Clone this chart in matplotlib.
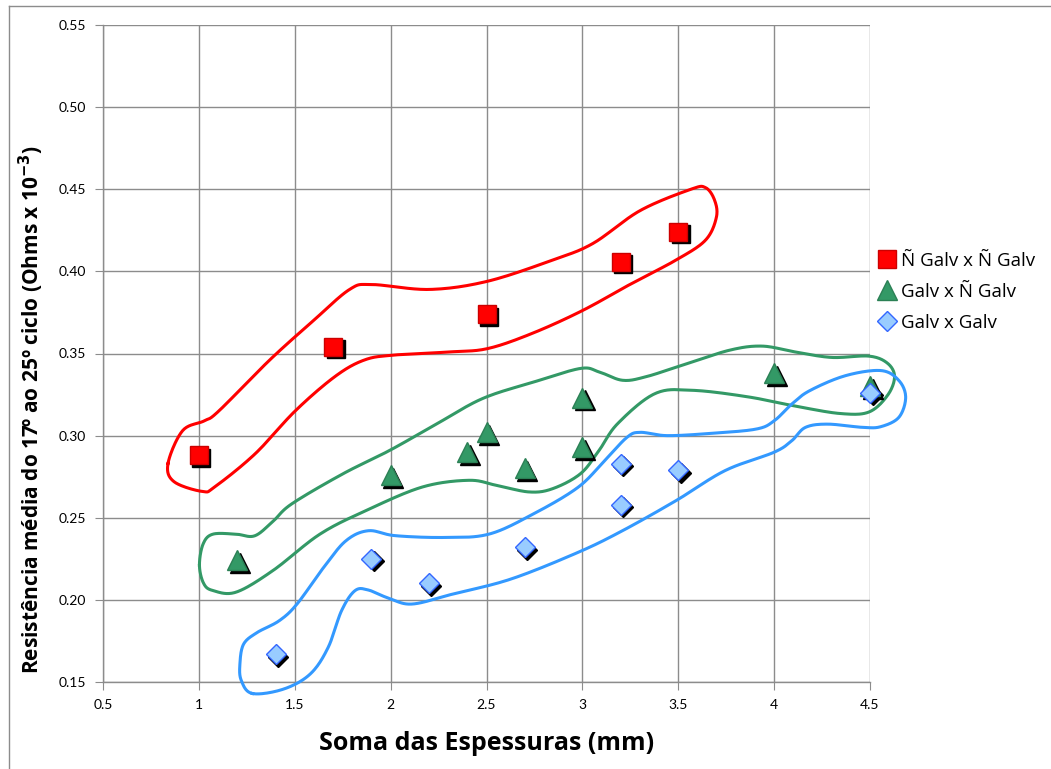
import numpy as np
import matplotlib
matplotlib.use("Agg")
import matplotlib.pyplot as plt
from matplotlib import transforms
from matplotlib.lines import Line2D

plt.rcParams['font.family'] = ['Lato', 'DejaVu Sans']

# --- measured values -------------------------------------------------------
nn_x = [1.0, 1.7, 2.5, 3.2, 3.5]
nn_y = [0.288, 0.354, 0.374, 0.406, 0.424]

gn_x = [1.2, 2.0, 2.4, 2.5, 2.7, 3.0, 3.0, 4.0, 4.5]
gn_y = [0.224, 0.276, 0.290, 0.302, 0.280, 0.323, 0.293, 0.338, 0.330]

gg_x = [1.4, 1.9, 2.2, 2.7, 3.2, 3.2, 3.5, 4.5]
gg_y = [0.167, 0.225, 0.210, 0.232, 0.283, 0.258, 0.279, 0.326]

labels = ["Ñ Galv x Ñ Galv", "Galv x Ñ Galv", "Galv x Galv"]

x_ticks = [0.5, 1, 1.5, 2, 2.5, 3, 3.5, 4, 4.5]
x_tick_labels = ["0.5", "1", "1.5", "2", "2.5", "3", "3.5", "4", "4.5"]
y_ticks = [0.15, 0.20, 0.25, 0.30, 0.35, 0.40, 0.45, 0.50, 0.55]

# hand-drawn group outlines (closed loops, in data units)
nn_loop = [(0.839, 0.283), (0.915, 0.303), (1.028, 0.309), (1.104, 0.315),
           (1.369, 0.346), (1.597, 0.370), (1.786, 0.389), (1.90, 0.392),
           (2.203, 0.389), (2.506, 0.394), (2.847, 0.407), (3.055, 0.417),
           (3.301, 0.437), (3.566, 0.450), (3.642, 0.451), (3.689, 0.4435),
           (3.699, 0.433), (3.642, 0.419), (3.49, 0.407), (3.263, 0.393),
           (2.998, 0.376), (2.733, 0.362), (2.506, 0.353), (2.316, 0.351),
           (2.013, 0.349), (1.862, 0.346), (1.710, 0.336), (1.502, 0.315),
           (1.294, 0.289), (1.085, 0.269), (1.019, 0.266), (0.87, 0.272)]

gn_loop = [(1.003, 0.221), (1.022, 0.234), (1.073, 0.240), (1.194, 0.240),
           (1.291, 0.239), (1.388, 0.248), (1.485, 0.2585), (1.752, 0.2768),
           (1.995, 0.291), (2.238, 0.307), (2.48, 0.3226), (2.748, 0.3327),
           (2.99, 0.3409), (3.087, 0.3388), (3.209, 0.3337), (3.33, 0.3358),
           (3.524, 0.343), (3.767, 0.352), (3.937, 0.3545), (4.107, 0.351),
           (4.30, 0.3476), (4.495, 0.3484), (4.592, 0.344), (4.628, 0.3358),
           (4.592, 0.3246), (4.495, 0.3144), (4.35, 0.3134), (4.131, 0.3175),
           (3.864, 0.3236), (3.573, 0.3276), (3.379, 0.3256), (3.184, 0.3073),
           (3.087, 0.291), (2.99, 0.2768), (2.845, 0.2677), (2.723, 0.2657),
           (2.553, 0.2697), (2.408, 0.2728), (2.165, 0.2687), (1.874, 0.2545),
           (1.631, 0.240), (1.388, 0.218), (1.194, 0.2047), (1.073, 0.2057),
           (1.025, 0.2100)]

gg_loop = [(1.279, 0.143), (1.221, 0.151), (1.214, 0.161), (1.233, 0.173),
           (1.302, 0.180), (1.419, 0.1873), (1.512, 0.1975), (1.651, 0.2198),
           (1.767, 0.236), (1.884, 0.2421), (2.023, 0.2391), (2.279, 0.238),
           (2.512, 0.240), (2.744, 0.2523), (2.977, 0.2685), (3.116, 0.2848),
           (3.233, 0.299), (3.302, 0.302), (3.442, 0.300), (3.674, 0.3014),
           (3.907, 0.304), (4.0, 0.309), (4.093, 0.3193), (4.186, 0.3274),
           (4.372, 0.3365), (4.558, 0.3396), (4.651, 0.3335), (4.686, 0.3233),
           (4.651, 0.3112), (4.558, 0.3055), (4.465, 0.305), (4.279, 0.307),
           (4.163, 0.305), (4.093, 0.297), (4.0, 0.2899), (3.744, 0.2787),
           (3.488, 0.2604), (3.209, 0.2421), (2.977, 0.2289), (2.628, 0.2127),
           (2.326, 0.2036), (2.116, 0.1975), (2.0, 0.2005), (1.884, 0.206),
           (1.814, 0.2056), (1.744, 0.1934), (1.674, 0.171), (1.581, 0.1549),
           (1.442, 0.1457)]


def smooth_loop(pts, n=20):
    """Closed Catmull-Rom spline through the given points."""
    p = np.asarray(pts, dtype=float)
    m = len(p)
    out = []
    t = np.linspace(0, 1, n, endpoint=False)[:, None]
    for i in range(m):
        p0, p1, p2, p3 = p[(i - 1) % m], p[i], p[(i + 1) % m], p[(i + 2) % m]
        seg = 0.5 * ((2 * p1) + (-p0 + p2) * t +
                     (2 * p0 - 5 * p1 + 4 * p2 - p3) * t ** 2 +
                     (-p0 + 3 * p1 - 3 * p2 + p3) * t ** 3)
        out.append(seg)
    out = np.vstack(out)
    return np.vstack([out, out[:1]])


fig = plt.figure(figsize=(10.51, 7.69), dpi=100)
ax = fig.add_axes([103 / 1051, 1 - 682 / 769, 767 / 1051, 657 / 769])

ax.set_xlim(0.5, 4.5)
ax.set_ylim(0.15, 0.55)
ax.set_xticks(x_ticks)
ax.set_xticklabels(x_tick_labels)
ax.set_yticks(y_ticks)
ax.set_yticklabels([f"{v:.2f}" for v in y_ticks])
ax.grid(True, color="#8c8c8c", linewidth=1.0)
ax.set_axisbelow(True)
for side in ("top", "right"):
    ax.spines[side].set_visible(False)
for side in ("left", "bottom"):
    ax.spines[side].set_color("#8c8c8c")
    ax.spines[side].set_linewidth(1.0)
ax.tick_params(axis="both", direction="out", length=6, color="#8c8c8c",
               labelsize=10, pad=6)

# outlines around each group
for loop, col in ((nn_loop, "#ff0000"), (gn_loop, "#339966"), (gg_loop, "#3399ff")):
    c = smooth_loop(loop)
    ax.plot(c[:, 0], c[:, 1], color=col, linewidth=2.2, zorder=3,
            clip_on=False, solid_joinstyle="round")

shadow = transforms.offset_copy(ax.transData, fig=fig, x=2.5, y=-2.5, units="dots")

series = [
    (nn_x, nn_y, "s", 13, "#ff0000", "#cc0000"),
    (gn_x, gn_y, "^", 15, "#339966", "#2b8055"),
    (gg_x, gg_y, "D", 10.5, "#99ccff", "#3366ff"),
]
for xs, ys, mk, ms, fc, ec in series:
    ax.plot(xs, ys, linestyle="none", marker=mk, markersize=ms,
            markerfacecolor="black", markeredgecolor="black",
            transform=shadow, zorder=4, clip_on=False)
    ax.plot(xs, ys, linestyle="none", marker=mk, markersize=ms,
            markerfacecolor=fc, markeredgecolor=ec, markeredgewidth=1.0,
            zorder=5, clip_on=False)

handles = [Line2D([], [], linestyle="none", marker=mk, markersize=ms * 0.95,
                  markerfacecolor=fc, markeredgecolor=ec)
           for _, _, mk, ms, fc, ec in series]
fig.legend(handles, labels, loc="upper left", bbox_to_anchor=(872 / 1051, 1 - 244 / 769),
           frameon=False, handlelength=0.8, handletextpad=0.35,
           labelspacing=0.7, borderaxespad=0,
           prop={"family": ["Open Sans", "DejaVu Sans"], "size": 13.5})

ax.set_xlabel("Soma das Espessuras (mm)", fontsize=18, fontweight="bold",
              family=["Open Sans", "DejaVu Sans"])
ax.xaxis.set_label_coords(0.5, -0.075)
ax.set_ylabel("Resistência média do 17º ao 25º ciclo (Ohms x 10$^{\\mathbf{-3}}$)",
              fontsize=15, fontweight="bold",
              family=["Open Sans", "DejaVu Sans"])
ax.yaxis.set_label_coords(-0.074, 0.415)

# outer frame lines
fig.add_artist(Line2D([9 / 1051, 9 / 1051], [0, 1 - 6 / 769], transform=fig.transFigure,
                      color="#8c8c8c", linewidth=1.0))
fig.add_artist(Line2D([9 / 1051, 1], [1 - 6 / 769, 1 - 6 / 769], transform=fig.transFigure,
                      color="#8c8c8c", linewidth=1.0))

fig.savefig("out.png", dpi=100, facecolor="white")
